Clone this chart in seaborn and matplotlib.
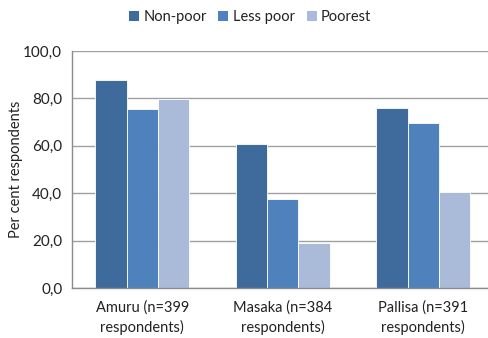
import matplotlib
matplotlib.use("Agg")
import matplotlib.pyplot as plt
from matplotlib.ticker import FuncFormatter, FixedLocator
import seaborn as sns
import pandas as pd

districts = ["Amuru (n=399\nrespondents)", "Masaka (n=384\nrespondents)", "Pallisa (n=391\nrespondents)"]
groups = ["Non-poor", "Less poor", "Poorest"]
non_poor = [87.8, 60.8, 76.0]
less_poor = [75.5, 37.7, 69.6]
poorest = [79.8, 18.9, 40.4]
colors = ["#3E6A9C", "#4F81BD", "#AABBD9"]

rows = []
for series, name in zip([non_poor, less_poor, poorest], groups):
    for d, v in zip(districts, series):
        rows.append({"district": d, "group": name, "value": v})
df = pd.DataFrame(rows)

sns.set_theme(style="white")
plt.rcParams["font.family"] = ["Lato", "DejaVu Sans"]

fig = plt.figure(figsize=(4.89, 3.38), dpi=100)
ax = fig.add_axes([72 / 489, 1 - 288 / 338, 421.5 / 489, 237 / 338])

sns.barplot(data=df, x="district", y="value", hue="group", order=districts,
            hue_order=groups, palette=colors, width=0.67, saturation=1,
            edgecolor="white", linewidth=0.6, ax=ax, legend=True)

ax.set_xlim(-0.5, 2.5)
ax.set_ylim(0, 100)
ax.set_yticks(range(0, 101, 20))
ax.yaxis.set_major_formatter(FuncFormatter(lambda v, p: f"{v:.1f}".replace(".", ",")))
ax.yaxis.grid(True, color="#A0A0A0", linewidth=1.0)
ax.set_axisbelow(True)

for s in ["top", "right"]:
    ax.spines[s].set_visible(False)
for s in ["left", "bottom"]:
    ax.spines[s].set_color("#8C8C8C")
    ax.spines[s].set_linewidth(1.0)

ax.tick_params(axis="y", which="major", length=4, color="#8C8C8C", width=1.0,
               labelsize=11, labelcolor="#222222", pad=3)
ax.tick_params(axis="x", which="major", length=0, labelsize=10.5,
               labelcolor="#222222", pad=9)
for lbl in ax.get_xticklabels():
    lbl.set_linespacing(1.4)
ax.xaxis.set_minor_locator(FixedLocator([-0.5, 0.5, 1.5]))
ax.tick_params(axis="x", which="minor", length=4, color="#8C8C8C", width=1.0)

ax.set_xlabel("")
ax.set_ylabel("Per cent respondents", fontsize=10.5, color="#222222", labelpad=0)

leg = ax.legend(loc="center", bbox_to_anchor=(250 / 489, 1 - 17 / 338),
                bbox_transform=fig.transFigure, ncol=3, frameon=False,
                fontsize=10.5, handlelength=0.7, handleheight=0.7,
                handletextpad=0.3, columnspacing=0.8, borderaxespad=0)
for t in leg.get_texts():
    t.set_color("#222222")
for h in leg.legend_handles:
    h.set_edgecolor("none")

fig.savefig("out.png", dpi=100)
